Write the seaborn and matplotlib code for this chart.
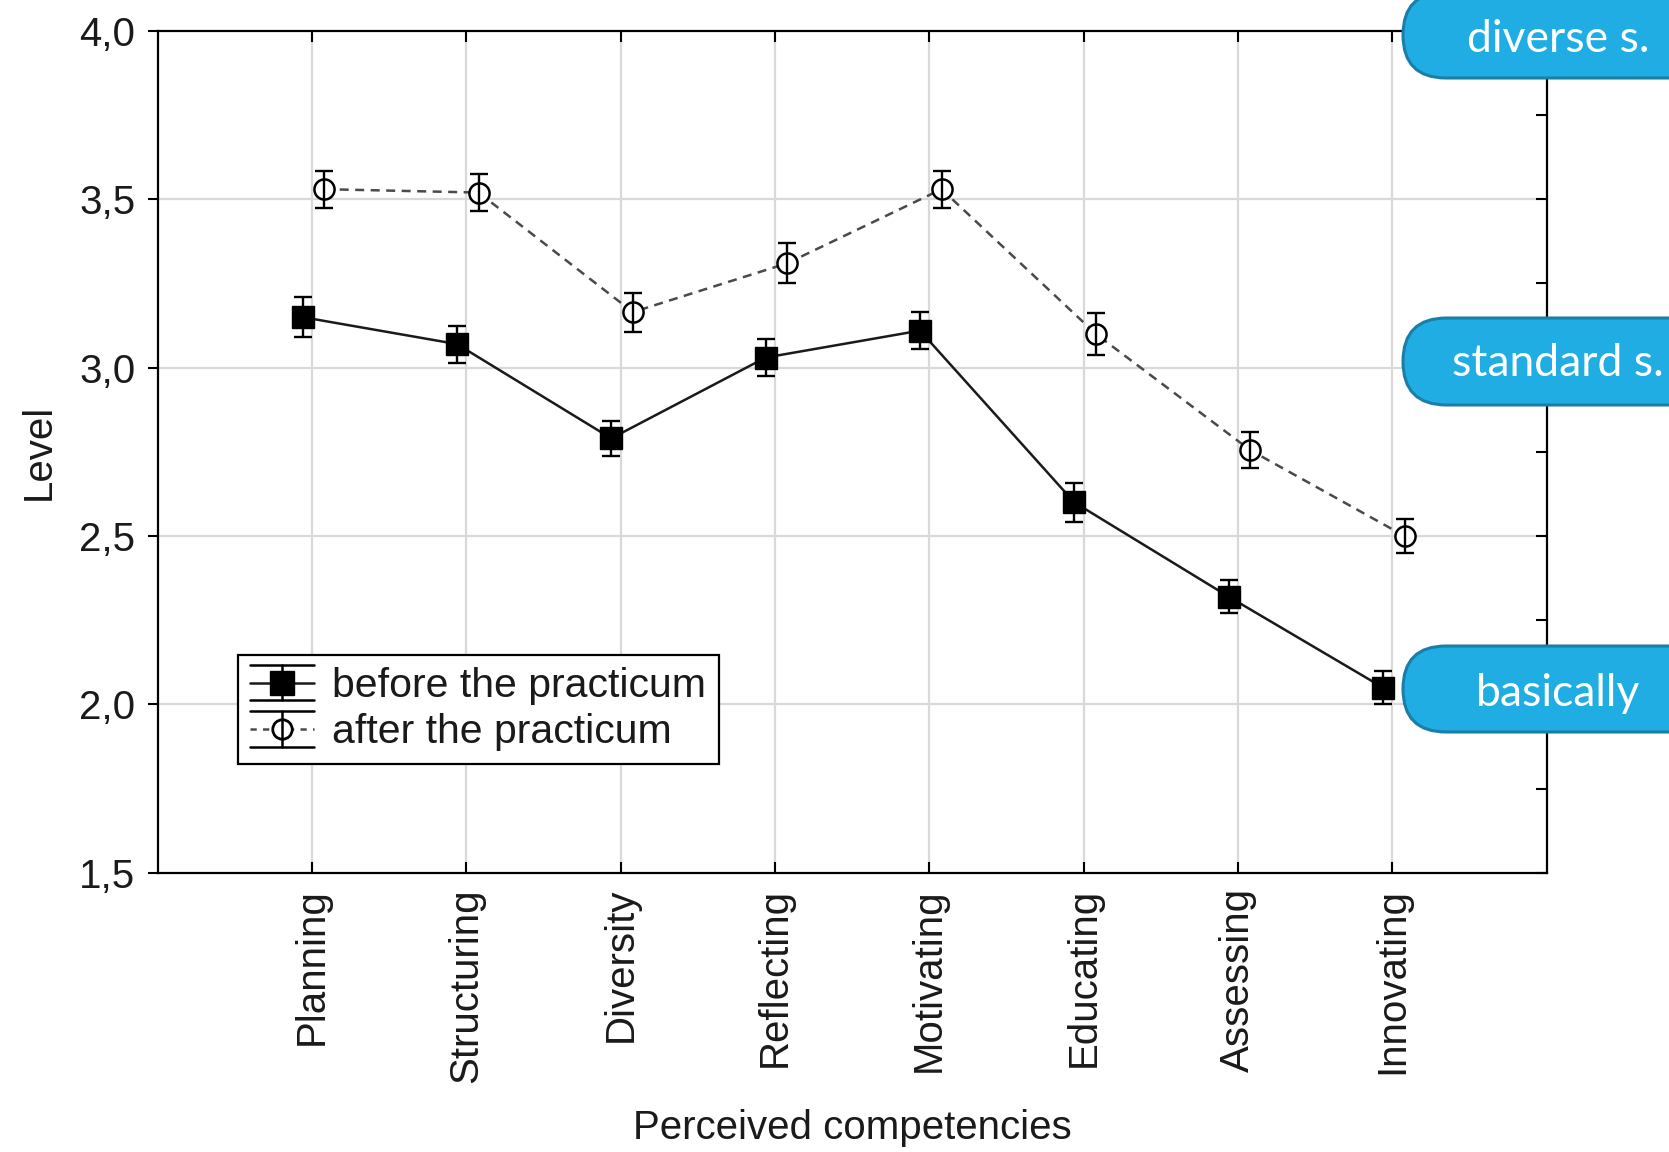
import numpy as np
import pandas as pd
import matplotlib
matplotlib.use("Agg")
import matplotlib.pyplot as plt
import seaborn as sns
from matplotlib.patches import FancyBboxPatch
from matplotlib.transforms import IdentityTransform
from matplotlib.legend_handler import HandlerBase
from matplotlib.lines import Line2D
from matplotlib.ticker import FuncFormatter, MultipleLocator, FixedLocator

# ---------------- data ----------------
competencies = ["Planning", "Structuring", "Diversity", "Reflecting",
                "Motivating", "Educating", "Assessing", "Innovating"]
before_mean = [3.15, 3.07, 2.79, 3.03, 3.11, 2.60, 2.32, 2.05]
before_err = [0.060, 0.055, 0.053, 0.055, 0.054, 0.058, 0.050, 0.050]
after_mean = [3.53, 3.52, 3.165, 3.31, 3.53, 3.10, 2.755, 2.50]
after_err = [0.055, 0.055, 0.058, 0.060, 0.055, 0.061, 0.054, 0.050]
series_labels = ["before the practicum", "after the practicum"]
level_labels = ["diverse s.", "standard s.", "basically"]
y_ticks = [1.5, 2.0, 2.5, 3.0, 3.5, 4.0]
x_label = "Perceived competencies"
y_label = "Level"

# ---------------- style ----------------
sns.set_theme(style="white")
plt.rcParams["font.family"] = ["Liberation Sans", "DejaVu Sans"]
FS = 29
TXT = "#1a1a1a"

W, H = 1669, 1152
fig = plt.figure(figsize=(W / 100, H / 100), dpi=100)
ax = fig.add_axes([157.5 / W, 1 - 872.8 / H, (1546.6 - 157.5) / W, (872.8 - 30.9) / H])

idx = np.arange(len(competencies))
off_before, off_after = -0.06, 0.08
df_before = pd.DataFrame({"x": idx + off_before, "y": before_mean, "e": before_err})
df_after = pd.DataFrame({"x": idx + off_after, "y": after_mean, "e": after_err})

# grid
for v in idx:
    ax.axvline(v, color="#d9d9d9", lw=1.6, zorder=0)
for v in y_ticks[1:-1]:
    ax.axhline(v, color="#d9d9d9", lw=1.6, zorder=0)

# before: solid line, filled squares
sns.lineplot(data=df_before, x="x", y="y", ax=ax, color="#1a1a1a", lw=1.8,
             marker="s", markersize=16, markeredgecolor="black",
             markerfacecolor="black", markeredgewidth=1, zorder=3, sort=False)
ax.errorbar(df_before["x"], df_before["y"], yerr=df_before["e"], fmt="none",
            ecolor="black", elinewidth=1.7, capsize=6.5, capthick=1.7, zorder=2)

# after: dashed grey line, open circles
sns.lineplot(data=df_after, x="x", y="y", ax=ax, color="#4a4a4a", lw=1.8,
             dashes=False, marker="o", markersize=14.5, markeredgecolor="black",
             markerfacecolor="white", markeredgewidth=1.8, zorder=3, sort=False)
ax.lines[-1].set_dashes((3.6, 2.6))
ax.errorbar(df_after["x"], df_after["y"], yerr=df_after["e"], fmt="none",
            ecolor="black", elinewidth=1.7, capsize=6.5, capthick=1.7, zorder=4)

ax.set_xlim(-1, len(competencies))
ax.set_ylim(y_ticks[0], y_ticks[-1])
ax.xaxis.set_major_locator(FixedLocator(idx))
ax.set_xticklabels(competencies, rotation=90, fontsize=FS, color=TXT)
ax.yaxis.set_major_locator(FixedLocator(y_ticks))
ax.yaxis.set_major_formatter(FuncFormatter(lambda v, p: f"{v:.1f}".replace(".", ",")))
ax.tick_params(axis="y", labelsize=FS, labelcolor=TXT, direction="out",
               length=7, width=1.5, left=True, right=False, pad=9, color="black")
ax.tick_params(axis="x", direction="in", length=8, width=1.5, bottom=True,
               top=True, pad=11, color="black")
ax.set_xlabel(x_label, fontsize=FS, color=TXT, labelpad=19)
ax.set_ylabel(y_label, fontsize=FS, color=TXT, labelpad=15)
for s in ax.spines.values():
    s.set_visible(True)
    s.set_color("black")
    s.set_linewidth(1.6)

ax2 = ax.twinx()
ax2.set_ylim(y_ticks[0], y_ticks[-1])
ax2.yaxis.set_major_locator(MultipleLocator(0.25))
ax2.tick_params(axis="y", direction="in", length=8, width=1.5, labelright=False,
                right=True, color="black")
ax2.grid(False)
for s in ax2.spines.values():
    s.set_visible(False)


# ---------------- legend ----------------
class ErrKey:
    def __init__(self, ls, col, marker, mfc, ms):
        self.ls, self.col, self.marker, self.mfc, self.ms = ls, col, marker, mfc, ms


class ErrHandler(HandlerBase):
    def create_artists(self, legend, h, xdescent, ydescent, width, height, fontsize, trans):
        x0, x1 = -xdescent, width - xdescent
        cy = height / 2 - ydescent
        d = 0.43 * fontsize
        xm = (x0 + x1) / 2
        mid = Line2D([x0, x1], [cy, cy], color=h.col, lw=1.8)
        if h.ls == "--":
            mid.set_dashes((2.5, 2.5))
        arts = [
            mid,
            Line2D([x0, x1], [cy + d, cy + d], color="black", lw=1.8),
            Line2D([x0, x1], [cy - d, cy - d], color="black", lw=1.8),
            Line2D([xm], [cy], marker=h.marker, mfc=h.mfc, mec="black",
                   ms=h.ms, mew=2.0 if h.mfc == "white" else 1, ls="none"),
            Line2D([xm, xm], [cy - d, cy + d], color="black", lw=1.8),
        ]
        for a in arts:
            a.set_transform(trans)
        return arts


keys = [ErrKey("-", "#1a1a1a", "s", "black", 17), ErrKey("--", "#4a4a4a", "o", "white", 14)]
leg = ax.legend(keys, series_labels, handler_map={ErrKey: ErrHandler()},
                loc="upper left", bbox_to_anchor=(0.058, 0.259), borderaxespad=0,
                fontsize=FS + 0.5, frameon=True, fancybox=False, framealpha=1,
                edgecolor="black", handlelength=1.55, handletextpad=0.45,
                labelspacing=0.2, borderpad=0.3)
leg.get_frame().set_linewidth(1.6)
for t in leg.get_texts():
    t.set_color(TXT)
leg.set_zorder(10)

# ---------------- level pills ----------------
pill_fill = "#1fade3"
pill_edge = "#1a7ea6"
pills = [(-8, 78, 39), (318, 405, 364), (646, 732, 693)]  # top, bottom, text-centre (px from top)
for (top, bot, tc), lab in zip(pills, level_labels):
    h = bot - top
    p = FancyBboxPatch((1403, H - bot), 400, h,
                       boxstyle=f"round,pad=0,rounding_size={h / 2}",
                       transform=IdentityTransform(), facecolor=pill_fill,
                       edgecolor=pill_edge, lw=2.2, zorder=20)
    fig.add_artist(p)
    fig.text(1558 / W, 1 - tc / H, lab, ha="center", va="center", color="white",
             fontsize=32, family=["Lato", "DejaVu Sans"], zorder=21)

fig.savefig("out.png", dpi=100)
